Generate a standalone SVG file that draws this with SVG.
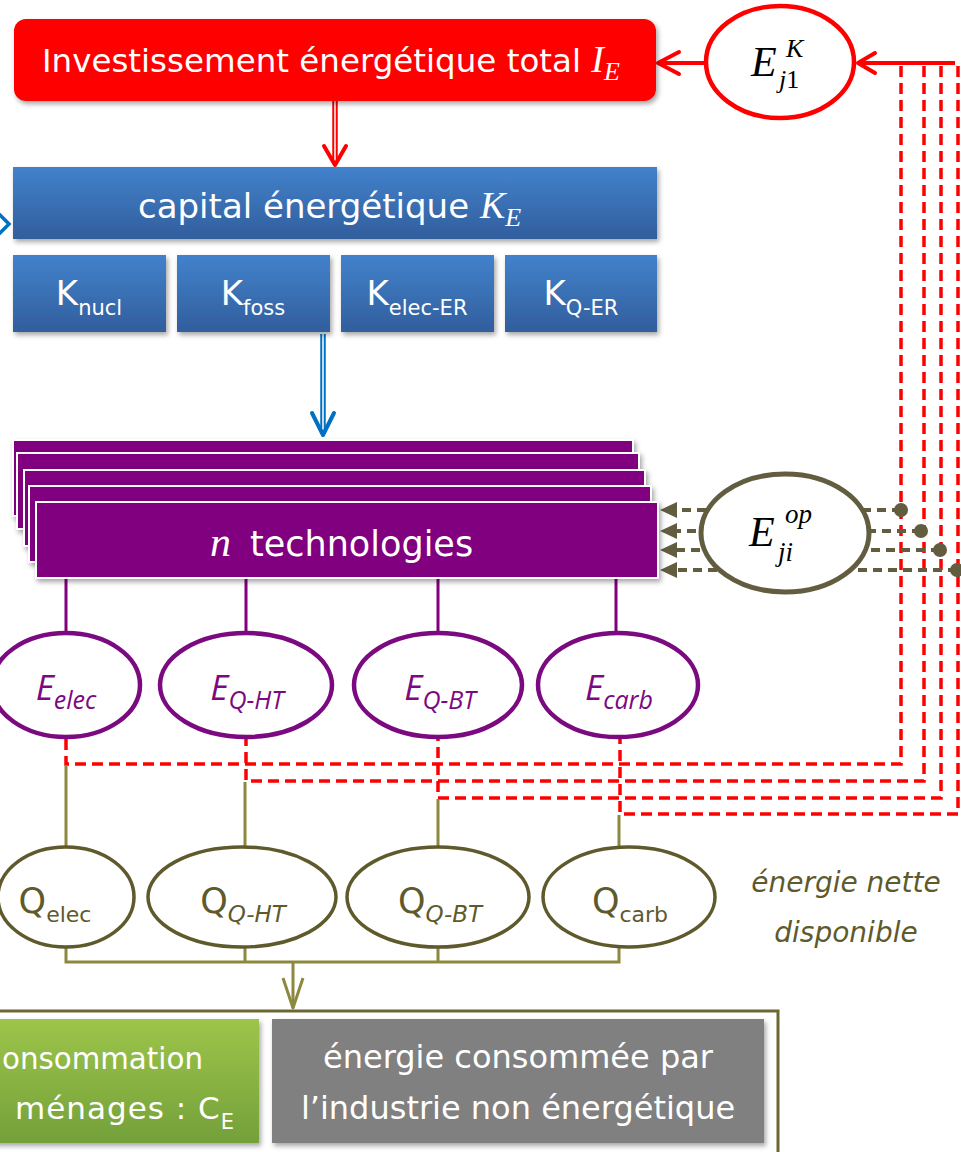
<svg xmlns="http://www.w3.org/2000/svg" width="961" height="1152" viewBox="0 0 961 1152">
<defs>
<linearGradient id="gBlue" x1="0" y1="0" x2="0" y2="1"><stop offset="0" stop-color="#4282cc"/><stop offset="1" stop-color="#315e9c"/></linearGradient>
<linearGradient id="gGreen" x1="0" y1="0" x2="0" y2="1"><stop offset="0" stop-color="#9dc54a"/><stop offset="1" stop-color="#74a03a"/></linearGradient>
<filter id="sh" x="-5%" y="-10%" width="110%" height="130%"><feDropShadow dx="2" dy="3" stdDeviation="2.5" flood-color="#000" flood-opacity="0.35"/></filter>
<style>
.t{font-family:"DejaVu Sans",sans-serif;fill:#fff}
.m{font-family:"Liberation Serif","Times New Roman",serif;font-style:italic}
.ei{font-family:"Open Sans","DejaVu Sans",sans-serif;font-style:italic;fill:#7b0a80}
.q{font-family:"DejaVu Sans",sans-serif;fill:#5e5a2c}
.purp{fill:#800080;stroke:#fff;stroke-width:2}
.eE{fill:#fff;stroke:#7b0a80;stroke-width:4.5}
.eQ{fill:#fff;stroke:#5e5a2c;stroke-width:3.5}
.rd{fill:none;stroke:#ff0000;stroke-width:3.5;stroke-dasharray:11 6}
.ol{fill:none;stroke:#8c883e;stroke-width:3}
.od{fill:none;stroke:#625d3f;stroke-width:4;stroke-dasharray:9 6}
.pl{fill:none;stroke:#800080;stroke-width:3}
</style>
</defs>

<g id="connectors">
  <line x1="335" y1="101" x2="335" y2="164" stroke="#ff0000" stroke-width="5.5"/>
  <line x1="335" y1="101" x2="335" y2="162" stroke="#fff" stroke-width="1.5"/>
  <polyline points="324,146 335,165 346,146" fill="none" stroke="#ff0000" stroke-width="4" stroke-linecap="round" stroke-linejoin="round"/>
  <line x1="323" y1="334" x2="323" y2="434" stroke="#0070c0" stroke-width="5.5"/>
  <line x1="323" y1="334" x2="323" y2="430" stroke="#fff" stroke-width="1.5"/>
  <polyline points="312,413 323,435 334,413" fill="none" stroke="#0070c0" stroke-width="4" stroke-linecap="round" stroke-linejoin="round"/>
  <polyline points="-1,214 9,224 -1,234" fill="none" stroke="#0070c0" stroke-width="3.5"/>
  <line x1="705" y1="63" x2="660" y2="63" stroke="#ff0000" stroke-width="4"/>
  <polyline points="679,52 658,63 679,74" fill="none" stroke="#ff0000" stroke-width="4" stroke-linecap="round" stroke-linejoin="round"/>
  <line x1="858" y1="63" x2="955" y2="63" stroke="#ff0000" stroke-width="4"/>
  <polyline points="875,53 858,63 875,73" fill="none" stroke="#ff0000" stroke-width="4" stroke-linecap="round" stroke-linejoin="round"/>
  <path class="rd" d="M901,66 V764 H66 V737"/>
  <path class="rd" d="M924,66 V781 H246 V737"/>
  <path class="rd" d="M941,66 V798 H438 V737"/>
  <path class="rd" d="M958,66 V814 H620 V737"/>
  <line class="pl" x1="66" y1="578" x2="66" y2="640"/>
  <line class="pl" x1="246" y1="578" x2="246" y2="634"/>
  <line class="pl" x1="438" y1="578" x2="438" y2="634"/>
  <line class="pl" x1="616" y1="578" x2="616" y2="634"/>
  <line class="ol" x1="66" y1="765" x2="66" y2="848"/>
  <line class="ol" x1="245" y1="782" x2="245" y2="848"/>
  <line class="ol" x1="438" y1="799" x2="438" y2="848"/>
  <line class="ol" x1="619" y1="815" x2="619" y2="848"/>
  <path class="ol" d="M66,947 V962 H619 V947 M245,947 V962 M438,947 V962 M293,962 V1008"/>
  <polyline points="283,978 293,1008 303,978" fill="none" stroke="#8c883e" stroke-width="3" stroke-linejoin="round"/>
  <line class="od" x1="901" y1="510" x2="676" y2="510"/>
  <line class="od" x1="921" y1="531" x2="676" y2="531"/>
  <line class="od" x1="940" y1="550" x2="676" y2="550"/>
  <line class="od" x1="957" y1="570" x2="676" y2="570"/>
  <g fill="#625d3f">
    <polygon points="660,510 677,502 677,518"/>
    <polygon points="660,531 677,523 677,539"/>
    <polygon points="660,550 677,542 677,558"/>
    <polygon points="660,570 677,562 677,578"/>
    <circle cx="901" cy="510" r="7"/>
    <circle cx="921" cy="531" r="7"/>
    <circle cx="940" cy="550" r="7"/>
    <circle cx="957" cy="570" r="7"/>
  </g>
  <path d="M0,1011 H778 V1152" fill="none" stroke="#6b6632" stroke-width="3"/>
</g>

<g id="investissement">
  <rect x="14" y="19" width="642" height="82" rx="12" fill="#ff0000" filter="url(#sh)"/>
  <text class="t" x="42" y="72" font-size="32.5">Investissement énergétique total <tspan class="m" fill="#fff" font-size="38">I</tspan><tspan class="m" fill="#fff" font-size="26" dy="8">E</tspan></text>
</g>

<g id="EjK">
  <ellipse cx="780" cy="62" rx="74" ry="56" fill="#fff" stroke="#ff0000" stroke-width="4.5"/>
  <text class="m" x="751" y="76" font-size="42" fill="#000">E</text>
  <text class="m" x="786" y="57" font-size="26" fill="#000">K</text>
  <text class="m" x="779" y="88" font-size="26" fill="#000">j<tspan font-style="normal">1</tspan></text>
</g>

<g id="capital">
  <rect x="13" y="167" width="644" height="72" fill="url(#gBlue)" filter="url(#sh)"/>
  <text class="t" x="138" y="218" font-size="34">capital énergétique <tspan class="m" fill="#fff" font-size="38">K</tspan><tspan class="m" fill="#fff" font-size="26" dy="8">E</tspan></text>
</g>

<g id="K-boxes">
  <rect x="13" y="255" width="153" height="77" fill="url(#gBlue)" filter="url(#sh)"/>
  <rect x="177" y="255" width="153" height="77" fill="url(#gBlue)" filter="url(#sh)"/>
  <rect x="341" y="255" width="153" height="77" fill="url(#gBlue)" filter="url(#sh)"/>
  <rect x="505" y="255" width="152" height="77" fill="url(#gBlue)" filter="url(#sh)"/>
  <text class="t" x="89" y="305" font-size="34" text-anchor="middle">K<tspan font-size="21" dy="10">nucl</tspan></text>
  <text class="t" x="253" y="305" font-size="34" text-anchor="middle">K<tspan font-size="21" dy="10">foss</tspan></text>
  <text class="t" x="417" y="305" font-size="34" text-anchor="middle">K<tspan font-size="21" dy="10">elec-ER</tspan></text>
  <text class="t" x="581" y="305" font-size="34" text-anchor="middle">K<tspan font-size="21" dy="10">Q-ER</tspan></text>
</g>

<g id="technologies">
  <rect class="purp" x="13" y="440" width="620" height="76" filter="url(#sh)"/>
  <rect class="purp" x="17" y="453" width="622" height="76" filter="url(#sh)"/>
  <rect class="purp" x="24" y="470" width="621" height="76" filter="url(#sh)"/>
  <rect class="purp" x="29" y="486" width="622" height="76" filter="url(#sh)"/>
  <rect class="purp" x="36" y="502" width="622" height="76" filter="url(#sh)"/>
  <text class="m" x="210" y="556" font-size="42" fill="#fff">n</text>
  <text class="t" x="250" y="556" font-size="35">technologies</text>
</g>

<g id="Ejiop">
  <ellipse cx="785" cy="533" rx="84" ry="59" fill="#fff" stroke="#625d3f" stroke-width="5"/>
  <text class="m" x="749" y="546" font-size="42" fill="#000">E</text>
  <text class="m" x="785" y="523" font-size="27" fill="#000">op</text>
  <text class="m" x="778" y="561" font-size="27" fill="#000">ji</text>
</g>

<g id="E-elec">
  <ellipse class="eE" cx="66" cy="685" rx="74" ry="52"/>
  <text class="ei" x="66" y="700" font-size="35" text-anchor="middle">E<tspan font-size="25" dy="9">elec</tspan></text>
</g>
<g id="E-QHT">
  <ellipse class="eE" cx="246" cy="685" rx="86" ry="52"/>
  <text class="ei" x="247" y="700" font-size="35" text-anchor="middle">E<tspan font-size="25" dy="9">Q-HT</tspan></text>
</g>
<g id="E-QBT">
  <ellipse class="eE" cx="438" cy="685" rx="84" ry="52"/>
  <text class="ei" x="440" y="700" font-size="35" text-anchor="middle">E<tspan font-size="25" dy="9">Q-BT</tspan></text>
</g>
<g id="E-carb">
  <ellipse class="eE" cx="618" cy="685" rx="80" ry="52"/>
  <text class="ei" x="619" y="700" font-size="35" text-anchor="middle">E<tspan font-size="25" dy="9">carb</tspan></text>
</g>

<g id="Q-elec">
  <ellipse class="eQ" cx="66" cy="897" rx="68" ry="50"/>
  <text class="q" x="55" y="913" font-size="35" text-anchor="middle">Q<tspan font-size="22" dy="9">elec</tspan></text>
</g>
<g id="Q-QHT">
  <ellipse class="eQ" cx="242" cy="897" rx="94" ry="50"/>
  <text class="q" x="243" y="913" font-size="35" text-anchor="middle">Q<tspan font-size="23" dy="9" font-style="italic">Q-HT</tspan></text>
</g>
<g id="Q-QBT">
  <ellipse class="eQ" cx="438" cy="897" rx="91" ry="50"/>
  <text class="q" x="440" y="913" font-size="35" text-anchor="middle">Q<tspan font-size="23" dy="9" font-style="italic">Q-BT</tspan></text>
</g>
<g id="Q-carb">
  <ellipse class="eQ" cx="629" cy="897" rx="86" ry="50"/>
  <text class="q" x="630" y="913" font-size="35" text-anchor="middle">Q<tspan font-size="22" dy="9">carb</tspan></text>
</g>

<g id="label-nette">
  <text class="q" x="846" y="892" font-size="28" font-style="italic" text-anchor="middle">énergie nette</text>
  <text class="q" x="846" y="942" font-size="28" font-style="italic" text-anchor="middle">disponible</text>
</g>

<g id="consommation-menages">
  <rect x="-10" y="1019" width="269" height="124" fill="url(#gGreen)" filter="url(#sh)"/>
  <text class="t" x="2" y="1069" font-size="31" textLength="201" lengthAdjust="spacingAndGlyphs">onsommation</text>
  <text class="t" x="235" y="1119" font-size="31" text-anchor="end" letter-spacing="1">ménages : C<tspan font-size="21" dy="10">E</tspan></text>
</g>

<g id="industrie">
  <rect x="272" y="1019" width="492" height="124" fill="#808080" filter="url(#sh)"/>
  <text class="t" x="518" y="1068" font-size="32" text-anchor="middle">énergie consommée par</text>
  <text class="t" x="518" y="1119" font-size="32" text-anchor="middle">l’industrie non énergétique</text>
</g>
</svg>
